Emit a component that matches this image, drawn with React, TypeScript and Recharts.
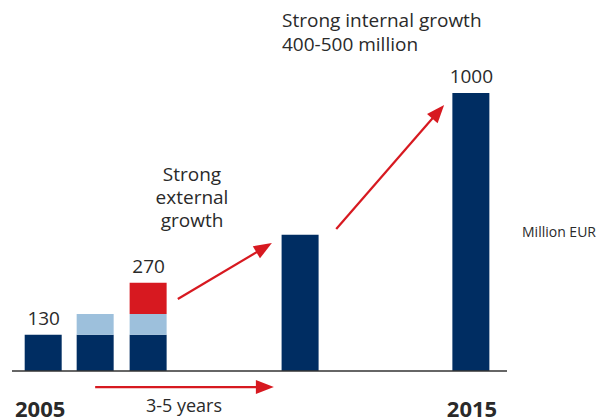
import React from 'react';
import { BarChart, Bar, XAxis, YAxis, ReferenceLine, ReferenceDot, Customized } from 'recharts';

const stages = ['2005', 'Acquisition 1', 'Acquisition 2', 'Interim', '2015'];
const positions = [6.4, 16.9, 27.6, 58.3, 92.8];
const baseValues = [130, 130, 130, 490, 1000];
const addedValues = [0, 75, 75, 0, 0];
const acquiredValues = [0, 0, 112, 0, 0];
const valueLabels = ['130', '', '270', '', '1000'];

// arrows in data units: [x, y] start and end
const arrows = [
  { from: [16.8, -58], to: [52.9, -58] },
  { from: [33.5, 259], to: [52.5, 460] },
  { from: [65.5, 511], to: [87.3, 957] },
];

const NAVY = '#002d62';
const LIGHT = '#9dc0dc';
const RED = '#d71920';
const TEXT = '#2a2a2a';
const FONT = '"Open Sans", sans-serif';

const data = stages.map((name, i) => ({
  name,
  pos: positions[i],
  base: baseValues[i],
  added: addedValues[i],
  acquired: acquiredValues[i],
  total: baseValues[i] + addedValues[i] + acquiredValues[i],
  label: valueLabels[i],
}));

const ArrowShape = (props: any) => {
  const { x1, y1, x2, y2 } = props;
  const dx = x2 - x1;
  const dy = y2 - y1;
  const len = Math.hypot(dx, dy);
  const ux = dx / len;
  const uy = dy / len;
  const head = 18;
  const half = 7;
  const bx = x2 - ux * head;
  const by = y2 - uy * head;
  const pts = `${x2},${y2} ${bx - uy * half},${by + ux * half} ${bx + uy * half},${by - ux * half}`;
  return (
    <g>
      <line x1={x1} y1={y1} x2={bx + ux * 2} y2={by + uy * 2} stroke={RED} strokeWidth={2.2} />
      <polygon points={pts} fill={RED} />
    </g>
  );
};

const Annotations = () => (
  <g fontFamily={FONT} fill={TEXT}>
    <text x={282} y={27} fontSize={19}>Strong internal growth</text>
    <text x={282} y={51} fontSize={19}>400-500 million</text>
    <text x={192} y={181} fontSize={19} textAnchor="middle">Strong</text>
    <text x={192} y={204} fontSize={19} textAnchor="middle">external</text>
    <text x={192} y={227} fontSize={19} textAnchor="middle">growth</text>
    <text x={522} y={237} fontSize={14}>Million EUR</text>
    <text x={184} y={412} fontSize={18} textAnchor="middle">3-5 years</text>
    <text x={15} y={417} fontSize={22} fontWeight="bold">2005</text>
    <text x={472} y={417} fontSize={22} fontWeight="bold" textAnchor="middle">2015</text>
  </g>
);

export default function App() {
  return (
    <div style={{ position: 'absolute', left: 0, top: 0, width: 604, height: 418, background: '#fff' }}>
      <BarChart width={604} height={418} data={data} margin={{ top: 93, right: 97, bottom: 47, left: 12 }}>
        <XAxis type="number" dataKey="pos" domain={[0, 100]} hide />
        <YAxis type="number" domain={[0, 1000]} hide />
        <Bar dataKey="base" stackId="a" fill={NAVY} barSize={37} isAnimationActive={false} />
        <Bar dataKey="added" stackId="a" fill={LIGHT} barSize={37} isAnimationActive={false} />
        <Bar dataKey="acquired" stackId="a" fill={RED} barSize={37} isAnimationActive={false} />
        <ReferenceLine y={0} stroke="#333" strokeWidth={1.5} />
        {data
          .filter((d) => d.label)
          .map((d) => (
            <ReferenceDot
              key={d.name}
              x={d.pos}
              y={d.total}
              r={0}
              fill="none"
              stroke="none"
              label={{ value: d.label, position: 'top', offset: 10, fill: TEXT, fontSize: 19, fontFamily: FONT }}
            />
          ))}
        {arrows.map((a, i) => (
          <ReferenceLine
            key={i}
            segment={[
              { x: a.from[0], y: a.from[1] },
              { x: a.to[0], y: a.to[1] },
            ]}
            ifOverflow="visible"
            shape={ArrowShape}
          />
        ))}
        <Customized component={Annotations} />
      </BarChart>
    </div>
  );
}
